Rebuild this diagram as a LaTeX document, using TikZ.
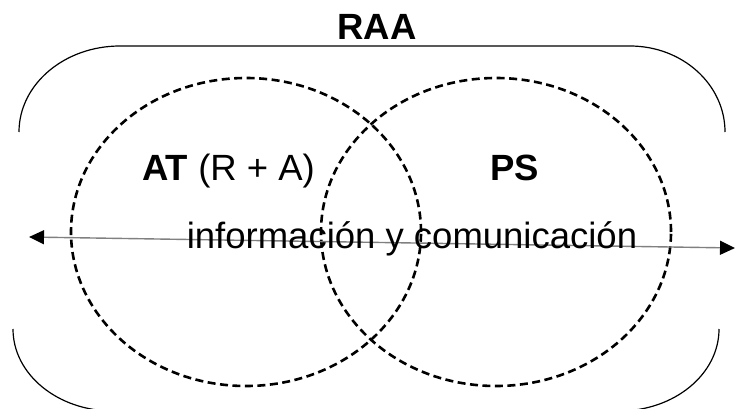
\documentclass[tikz,border=0pt]{standalone}
\usepackage{fontspec}
\setmainfont{Liberation Sans}
\usetikzlibrary{arrows.meta}
\begin{document}
\begin{tikzpicture}[x=1pt,y=1pt,
    marco/.style={line width=1.2pt,black},
    conjunto/.style={line width=2.6pt,black,dash pattern=on 8pt off 4.5pt},
    flecha/.style={line width=1.4pt,black!50,{Triangle[length=15pt,width=14pt,fill=black,color=black]}-{Triangle[length=15pt,width=14pt,fill=black,color=black]}},
    every node/.style={inner sep=0pt,font=\fontsize{36.5}{44}\selectfont}]
            \clip (0,0) rectangle (735,408);
            % marco RAA
            \draw [marco] (19,276) arc (180:90:101 and 86) -- (630,362) arc (90:0:95 and 86);
            \draw [marco] (13,79) arc (180:270:100 and 82);
            \draw [marco] (719,79) arc (0:-90:100 and 82);
            % conjuntos
            \draw [conjunto] (246,176) ellipse (175 and 154);
            \draw [conjunto] (496,176) ellipse (175 and 154);
            % flecha
            \coordinate (izq) at (29,171);
            \coordinate (der) at (735,160);
            \draw [flecha] (izq) -- (der);
            \node (raa) [anchor=base] at (377,368) {\textbf{RAA}};
            \node (at) [anchor=base west] at (142,228) {\textbf{AT} (R + A)};
            \node (ps) [anchor=base west] at (490,228) {\textbf{PS}};
            \node (info) [anchor=base] at (412,160) {información y comunicación};
\end{tikzpicture}
\end{document}
